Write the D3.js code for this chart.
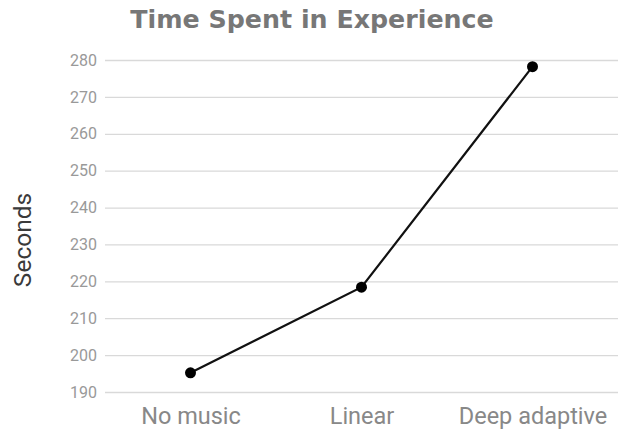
<!DOCTYPE html>
<html><head><meta charset="utf-8">
<script src="https://cdn.jsdelivr.net/npm/d3@7"></script>
<style>body{margin:0;background:#fff}svg{display:block}</style>
</head><body><svg id="c" width="638" height="440"></svg>
<script>
const categories = ["No music", "Linear", "Deep adaptive"];
const values = [195.2, 218.4, 278.2];
const yTicks = [190, 200, 210, 220, 230, 240, 250, 260, 270, 280];
const title = "Time Spent in Experience";
const yLabel = "Seconds";

(function () {
const svg = d3.select("#c");
const mLeft = 105, mRight = 618, mTop = 60, mBottom = 392;
const x = d3.scalePoint().domain(categories).range([mLeft, mRight]).padding(0.5);
const y = d3.scaleLinear().domain([190, 280]).range([mBottom, mTop]);

svg.append("rect").attr("width", 638).attr("height", 440).attr("fill", "#fff");

const ya = svg.append("g").attr("transform", `translate(${mLeft},0)`)
  .call(d3.axisLeft(y).tickValues(yTicks).tickSize(-(mRight - mLeft)).tickPadding(8));
ya.select(".domain").remove();
ya.selectAll(".tick line").attr("stroke", "#d9d9d9").attr("stroke-width", 1.3);
ya.selectAll(".tick text").attr("fill", "#999").attr("font-family", "Roboto").attr("font-size", 16);

const xa = svg.append("g").attr("transform", `translate(0,${mBottom})`)
  .call(d3.axisBottom(x).tickSize(0).tickPadding(15));
xa.select(".domain").remove();
xa.selectAll(".tick text").attr("fill", "#888").attr("font-family", "Roboto").attr("font-size", 23.5).attr("dy", "0.71em");

const pts = categories.map((c, i) => [x(c), y(values[i])]);
svg.append("path").attr("d", d3.line()(pts)).attr("fill", "none").attr("stroke", "#111").attr("stroke-width", 2.2);
svg.selectAll("circle.p").data(pts).join("circle").attr("class", "p")
  .attr("cx", d => d[0]).attr("cy", d => d[1]).attr("r", 5.5).attr("fill", "#000");

svg.append("text").attr("x", 312).attr("y", 28).attr("text-anchor", "middle")
  .attr("font-family", "DejaVu Sans").attr("font-weight", "bold").attr("font-size", 25.3)
  .attr("fill", "#777").text(title);

svg.append("text").attr("transform", "translate(31,240) rotate(-90)").attr("text-anchor", "middle")
  .attr("font-family", "Roboto").attr("font-size", 24.5).attr("fill", "#3a3a3a").text(yLabel);
})();
</script></body></html>
